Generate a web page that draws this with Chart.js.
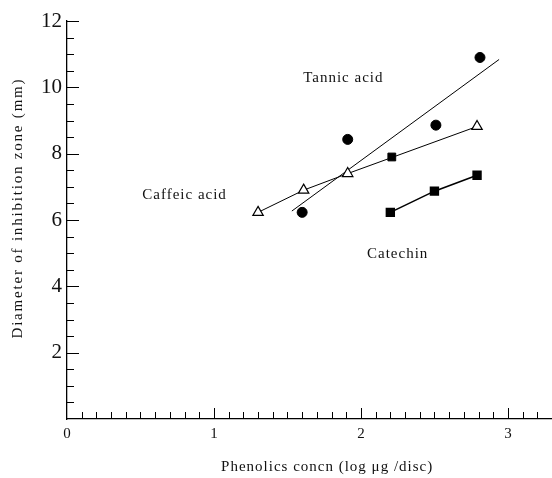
<!DOCTYPE html>
<html lang="en">
<head>
    <meta charset="UTF-8">
    <script src="https://cdn.jsdelivr.net/npm/chart.js"></script>
    <title>Inhibition zone vs phenolics</title>
    <style>
        body { margin: 0; background: #fff; }
    </style>
</head>
<body>
    <canvas id="chart_div" width="552" height="478"></canvas>
    <script>
        // data (x = log ug/disc, y = mm)
        var caffeicX = [1.30, 1.61, 1.91, 2.79];
        var caffeicY = [6.23, 6.90, 7.40, 8.82];
        var tannicX = [1.60, 1.91, 2.51, 2.81];
        var tannicY = [6.23, 8.43, 8.86, 10.90];
        var tannicFitX = [1.53, 2.94];
        var tannicFitY = [6.27, 10.84];
        var catechinX = [2.20, 2.50, 2.79];
        var catechinY = [6.23, 6.87, 7.35];
        var extraX = [2.21];
        var extraY = [7.90];

        var xTicks = [0, 1, 2, 3];
        var yTicks = [2, 4, 6, 8, 10, 12];

        // text labels next to the curves
        var labelNames = ['Tannic acid', 'Caffeic acid', 'Catechin'];
        var labelX = [1.88, 0.80, 2.25];
        var labelY = [10.27, 6.75, 4.97];

        var xTitle = 'Phenolics concn (log \u03bcg /disc)';
        var yTitle = 'Diameter of inhibition zone (mm)';

        function pts(xs, ys) {
            var out = [];
            for (var i = 0; i < xs.length; i++) out.push({x: xs[i], y: ys[i]});
            return out;
        }

        var serif = '"Liberation Serif", "DejaVu Serif", serif';

        // inward tick marks, curve labels, axis titles
        var figPlugin = {
            id: 'figPlugin',
            afterDatasetsDraw: function(chart) {
                var ctx = chart.ctx;
                var xs = chart.scales.x, ys = chart.scales.y;
                var left = chart.chartArea.left, bottom = chart.chartArea.bottom;
                ctx.save();
                ctx.strokeStyle = '#000';
                ctx.lineWidth = 1;
                ctx.beginPath();
                for (var i = 1; i <= 32; i++) {
                    var v = i / 10;
                    var px = Math.round(xs.getPixelForValue(v)) + 0.5;
                    var len = (i % 10 === 0) ? 11 : 7;
                    ctx.moveTo(px, bottom);
                    ctx.lineTo(px, bottom - len);
                }
                for (var j = 1; j <= 24; j++) {
                    var w = j / 2;
                    var py = Math.round(ys.getPixelForValue(w)) + 0.5;
                    var l2 = (j % 4 === 0) ? 12 : 7;
                    ctx.moveTo(left, py);
                    ctx.lineTo(left + l2, py);
                }
                ctx.stroke();

                ctx.fillStyle = '#111';
                ctx.font = '15px ' + serif;
                ctx.letterSpacing = '1px';
                ctx.textAlign = 'center';
                ctx.textBaseline = 'middle';
                for (var k = 0; k < labelNames.length; k++) {
                    ctx.fillText(labelNames[k], xs.getPixelForValue(labelX[k]), ys.getPixelForValue(labelY[k]));
                }

                // axis titles
                ctx.fillText(xTitle, xs.getPixelForValue(1.77), 467);
                ctx.letterSpacing = '1.8px';
                ctx.translate(18, ys.getPixelForValue(6.36));
                ctx.rotate(-Math.PI / 2);
                ctx.fillText(yTitle, 0, 0);
                ctx.restore();
            }
        };

        var config = {
            type: 'scatter',
            data: {
                datasets: [
                    {
                        label: 'Caffeic acid',
                        data: pts(caffeicX, caffeicY),
                        showLine: true,
                        borderColor: '#000',
                        borderWidth: 1,
                        pointStyle: 'triangle',
                        pointRadius: 6,
                        pointBackgroundColor: '#fff',
                        pointBorderColor: '#000',
                        pointBorderWidth: 1.2
                    },
                    {
                        label: 'Tannic acid fit',
                        data: pts(tannicFitX, tannicFitY),
                        showLine: true,
                        borderColor: '#000',
                        borderWidth: 1,
                        pointRadius: 0
                    },
                    {
                        label: 'Tannic acid',
                        data: pts(tannicX, tannicY),
                        showLine: false,
                        pointStyle: 'circle',
                        pointRadius: 5,
                        pointBackgroundColor: '#000',
                        pointBorderColor: '#000'
                    },
                    {
                        label: 'Catechin',
                        data: pts(catechinX, catechinY),
                        showLine: true,
                        borderColor: '#000',
                        borderWidth: 1.6,
                        pointStyle: 'rect',
                        pointRadius: 5.5,
                        pointBackgroundColor: '#000',
                        pointBorderColor: '#000'
                    },
                    {
                        label: 'extra',
                        data: pts(extraX, extraY),
                        showLine: false,
                        pointStyle: 'rect',
                        pointRadius: 5.5,
                        pointBackgroundColor: '#000',
                        pointBorderColor: '#000'
                    }
                ]
            },
            options: {
                responsive: false,
                animation: false,
                layout: { autoPadding: false, padding: { top: 21, right: 0, left: 0, bottom: 0 } },
                plugins: {
                    legend: { display: false },
                    tooltip: { enabled: false }
                },
                scales: {
                    x: {
                        type: 'linear',
                        min: 0,
                        max: 3.3,
                        afterBuildTicks: function(s) {
                            s.ticks = xTicks.map(function(v) { return {value: v}; });
                        },
                        afterFit: function(s) {
                            s.height = 59;
                            s.paddingRight = 0;
                            s.paddingLeft = 0;
                        },
                        grid: { display: false, drawTicks: false, tickLength: 0 },
                        border: { display: true, color: '#000', width: 1.3 },
                        ticks: {
                            color: '#111',
                            padding: 6,
                            maxRotation: 0,
                            font: { family: serif, size: 15 }
                        }
                    },
                    y: {
                        type: 'linear',
                        min: 0,
                        max: 12,
                        afterBuildTicks: function(s) {
                            s.ticks = yTicks.map(function(v) { return {value: v}; });
                        },
                        afterFit: function(s) { s.width = 67; },
                        grid: { display: false, drawTicks: false, tickLength: 0 },
                        border: { display: true, color: '#000', width: 1.3 },
                        ticks: {
                            color: '#111',
                            padding: 5,
                            font: { family: serif, size: 21 }
                        }
                    }
                }
            },
            plugins: [figPlugin]
        };

        var ctx = document.getElementById('chart_div');
        var myChart = new Chart(ctx, config);
    </script>
</body>
</html>
